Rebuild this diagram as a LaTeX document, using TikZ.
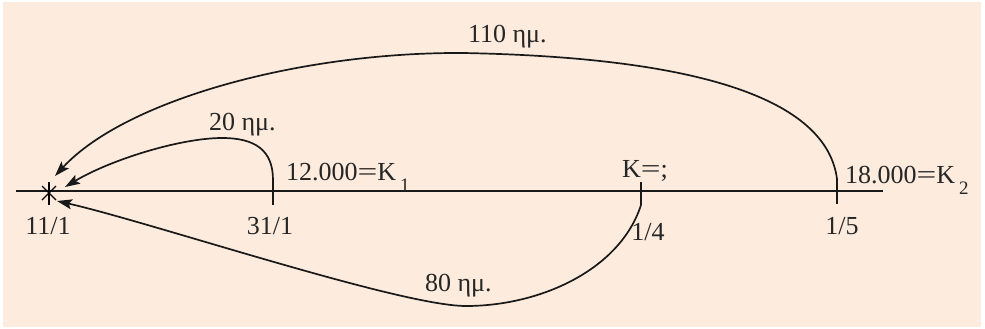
\documentclass[tikz,border=0pt]{standalone}
\usepackage{fontspec}
\setmainfont{Liberation Serif}
\usetikzlibrary{arrows.meta,calc}
\definecolor{peach}{RGB}{253,236,222}
\tikzset{
  lbl/.style={inner sep=0pt, outer sep=0pt, font=\fontsize{26}{26}\selectfont, text=black!85},
  ln/.style={line width=1.7pt, black!90},
  arr/.style={line width=1.7pt, black!90, -{Stealth[length=15pt,width=10pt,inset=3pt]}},
}
\newcommand{\sbs}[1]{\hspace{4pt}\raisebox{-11pt}{\fontsize{19}{19}\selectfont #1}}
\newcommand{\weq}{\scalebox{1.35}[1]{=}}
\begin{document}
\begin{tikzpicture}[x=1pt,y=-1pt]
\useasboundingbox (0,0) rectangle (985,329);
\fill[white] (0,0) rectangle (985,329);
\fill[peach] (3,2) rectangle (981,327);
% axis
\coordinate (axL) at (16,191);
\coordinate (axR) at (883,191);
\draw[ln] (axL) -- (axR);
% ticks
\coordinate (t31a) at (273,180); \coordinate (t31b) at (273,205);
\coordinate (t14a) at (641,182); \coordinate (t14b) at (641,205);
\coordinate (t15a) at (837,179); \coordinate (t15b) at (837,204);
\draw[ln] (t31a) -- (t31b);
\draw[ln] (t14a) -- (t14b);
\draw[ln] (t15a) -- (t15b);
% star
\coordinate (st) at (49,193);
\draw[line width=1.2pt] ($(st)+(0,-11)$) -- ($(st)+(0,12)$);
\draw[line width=1.2pt] ($(st)+(-7,-7)$) -- ($(st)+(7,7)$);
\draw[line width=1.2pt] ($(st)+(-7,7)$) -- ($(st)+(7,-7)$);
% arrow ends
\coordinate (e110) at (55,176);
\coordinate (e20) at (65,187);
\coordinate (e80) at (57,201);
\coordinate (a110) at (463,53);
\coordinate (a20) at (222,138);
\coordinate (a80) at (466,306);
% curves
\draw[arr] (t15a) .. controls (828,110) and (730,58) .. (a110)
                  .. controls (300,52) and (125,100) .. (e110);
\draw[arr] (t31a) .. controls (273,150) and (255,138) .. (a20)
                  .. controls (180,138) and (110,160) .. (e20);
\draw[arr] (t14b) .. controls (620,270) and (540,306) .. (a80)
                  .. controls (400,306) and (150,222) .. (e80);
% labels
\node[lbl, anchor=base] (l111) at (48,234) {11/1};
\node[lbl, anchor=base] (l311) at (270,234) {31/1};
\node[lbl, anchor=base] (l14) at (648,240) {1/4};
\node[lbl, anchor=base] (l15) at (842,234) {1/5};
\node[lbl, anchor=base west] (k1) at (286,180) {12.000\weq K\sbs{1}};
\node[lbl, anchor=base west] (k0) at (622,177) {K\weq;};
\node[lbl, anchor=base west] (k2) at (845,183) {18.000\weq K\sbs{2}};
\node[lbl, anchor=base west] (m110) at (468,43) {110 ημ.};
\node[lbl, anchor=base west] (m20) at (209,130) {20 ημ.};
\node[lbl, anchor=base west] (m80) at (425,291) {80 ημ.};
\end{tikzpicture}
\end{document}
